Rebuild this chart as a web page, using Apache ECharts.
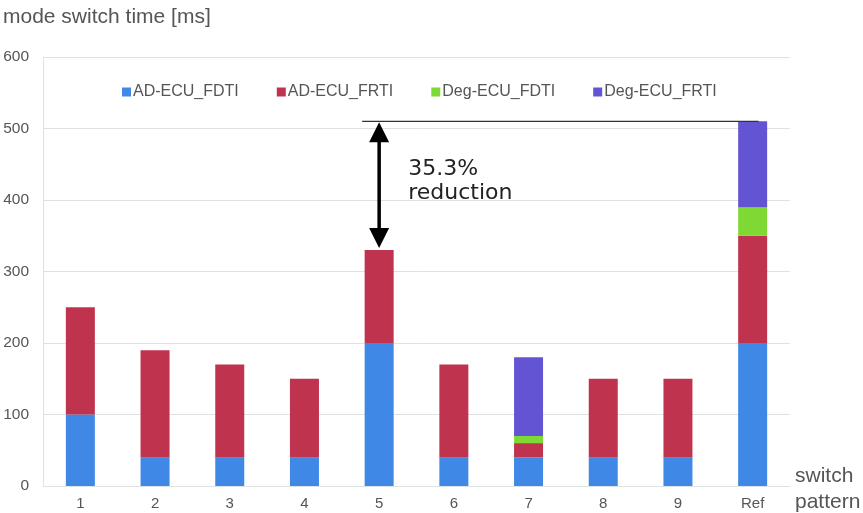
<!DOCTYPE html>
<html>
<head>
<meta charset="utf-8">
<script src="https://cdn.jsdelivr.net/npm/echarts@6/dist/echarts.min.js"></script>
<style>
  body { margin: 0; background: #fff; }
  #chart { width: 863px; height: 513px; }
</style>
</head>
<body>
<div id="chart"></div>
<script>
const patterns = ['1', '2', '3', '4', '5', '6', '7', '8', '9', 'Ref']
const adFdti = [100, 40, 40, 40, 200, 40, 40, 40, 40, 200]
const adFrti = [150, 150, 130, 110, 130, 130, 20, 110, 110, 150]
const degFdti = [0, 0, 0, 0, 0, 0, 10, 0, 0, 40]
const degFrti = [0, 0, 0, 0, 0, 0, 110, 0, 0, 120]
const yTicks = [0, 100, 200, 300, 400, 500, 600]
const refTotal = 510
const bestTotal = 330

const myChart = echarts.init(document.getElementById('chart'))
const font = 'Liberation Sans, Arial, sans-serif'

function bar(name, data, color) {
  return {
    name: name,
    type: 'bar',
    stack: 'total',
    barWidth: 29,
    data: data,
    itemStyle: { color: color },
    emphasis: { disabled: true }
  }
}

let option = {
  animation: false,
  textStyle: { fontFamily: font },
  title: {
    text: 'mode switch time [ms]',
    left: -2,
    top: 2,
    textStyle: { fontSize: 21, fontWeight: 'normal', color: '#555', fontFamily: font }
  },
  legend: {
    top: 79,
    left: 117,
    icon: 'rect',
    itemWidth: 9,
    itemHeight: 9,
    itemGap: 38,
    textStyle: { fontSize: 16, color: '#555', padding: [0, 0, 0, -3] },
    data: ['AD-ECU_FDTI', 'AD-ECU_FRTI', 'Deg-ECU_FDTI', 'Deg-ECU_FRTI']
  },
  grid: { left: 43, right: 73, top: 57, bottom: 27 },
  xAxis: {
    type: 'category',
    data: patterns,
    axisLine: { lineStyle: { color: '#dde3e3' } },
    axisTick: { show: false },
    axisLabel: { color: '#555', fontSize: 15, margin: 10 }
  },
  yAxis: {
    type: 'value',
    min: yTicks[0],
    max: yTicks[yTicks.length - 1],
    interval: 100,
    axisLine: { show: true, lineStyle: { color: '#dde3e3' } },
    axisLabel: { color: '#555', fontSize: 15.5, margin: 14 },
    splitLine: { lineStyle: { color: '#dde3e3' } }
  },
  series: [
    bar('AD-ECU_FDTI', adFdti, '#3f88e6'),
    bar('AD-ECU_FRTI', adFrti, '#c0334f'),
    bar('Deg-ECU_FDTI', degFdti, '#7ed934'),
    bar('Deg-ECU_FRTI', degFrti, '#6354d3')
  ]
}

myChart.setOption(option)

// annotation drawn from axis coordinates
const pTop = myChart.convertToPixel({ gridIndex: 0 }, ['5', refTotal])
const pBot = myChart.convertToPixel({ gridIndex: 0 }, ['5', bestTotal])
const pRef = myChart.convertToPixel({ gridIndex: 0 }, ['Ref', refTotal])

myChart.setOption({
  graphic: [
    {
      type: 'line',
      shape: { x1: pTop[0] - 17, y1: pTop[1], x2: pRef[0] + 6, y2: pTop[1] },
      style: { stroke: '#333', lineWidth: 1.3 },
      z: 10
    },
    {
      type: 'line',
      shape: { x1: pTop[0], y1: pTop[1] + 12, x2: pTop[0], y2: pBot[1] - 12 },
      style: { stroke: '#000', lineWidth: 3.5 },
      z: 10
    },
    {
      type: 'polygon',
      shape: { points: [[pTop[0], pTop[1] + 1], [pTop[0] - 10, pTop[1] + 21], [pTop[0] + 10, pTop[1] + 21]] },
      style: { fill: '#000' },
      z: 10
    },
    {
      type: 'polygon',
      shape: { points: [[pBot[0], pBot[1] - 2], [pBot[0] - 10, pBot[1] - 22], [pBot[0] + 10, pBot[1] - 22]] },
      style: { fill: '#000' },
      z: 10
    },
    {
      type: 'text',
      left: pTop[0] + 29,
      top: pTop[1] + 36,
      style: {
        text: '35.3%\nreduction',
        font: '22px DejaVu Sans, sans-serif',
        lineHeight: 24,
        fill: '#222'
      }
    },
    {
      type: 'text',
      left: 795,
      top: 463,
      style: {
        text: 'switch\npattern',
        font: '21px ' + font,
        lineHeight: 26,
        fill: '#555'
      }
    }
  ]
})
</script>
</body>
</html>
